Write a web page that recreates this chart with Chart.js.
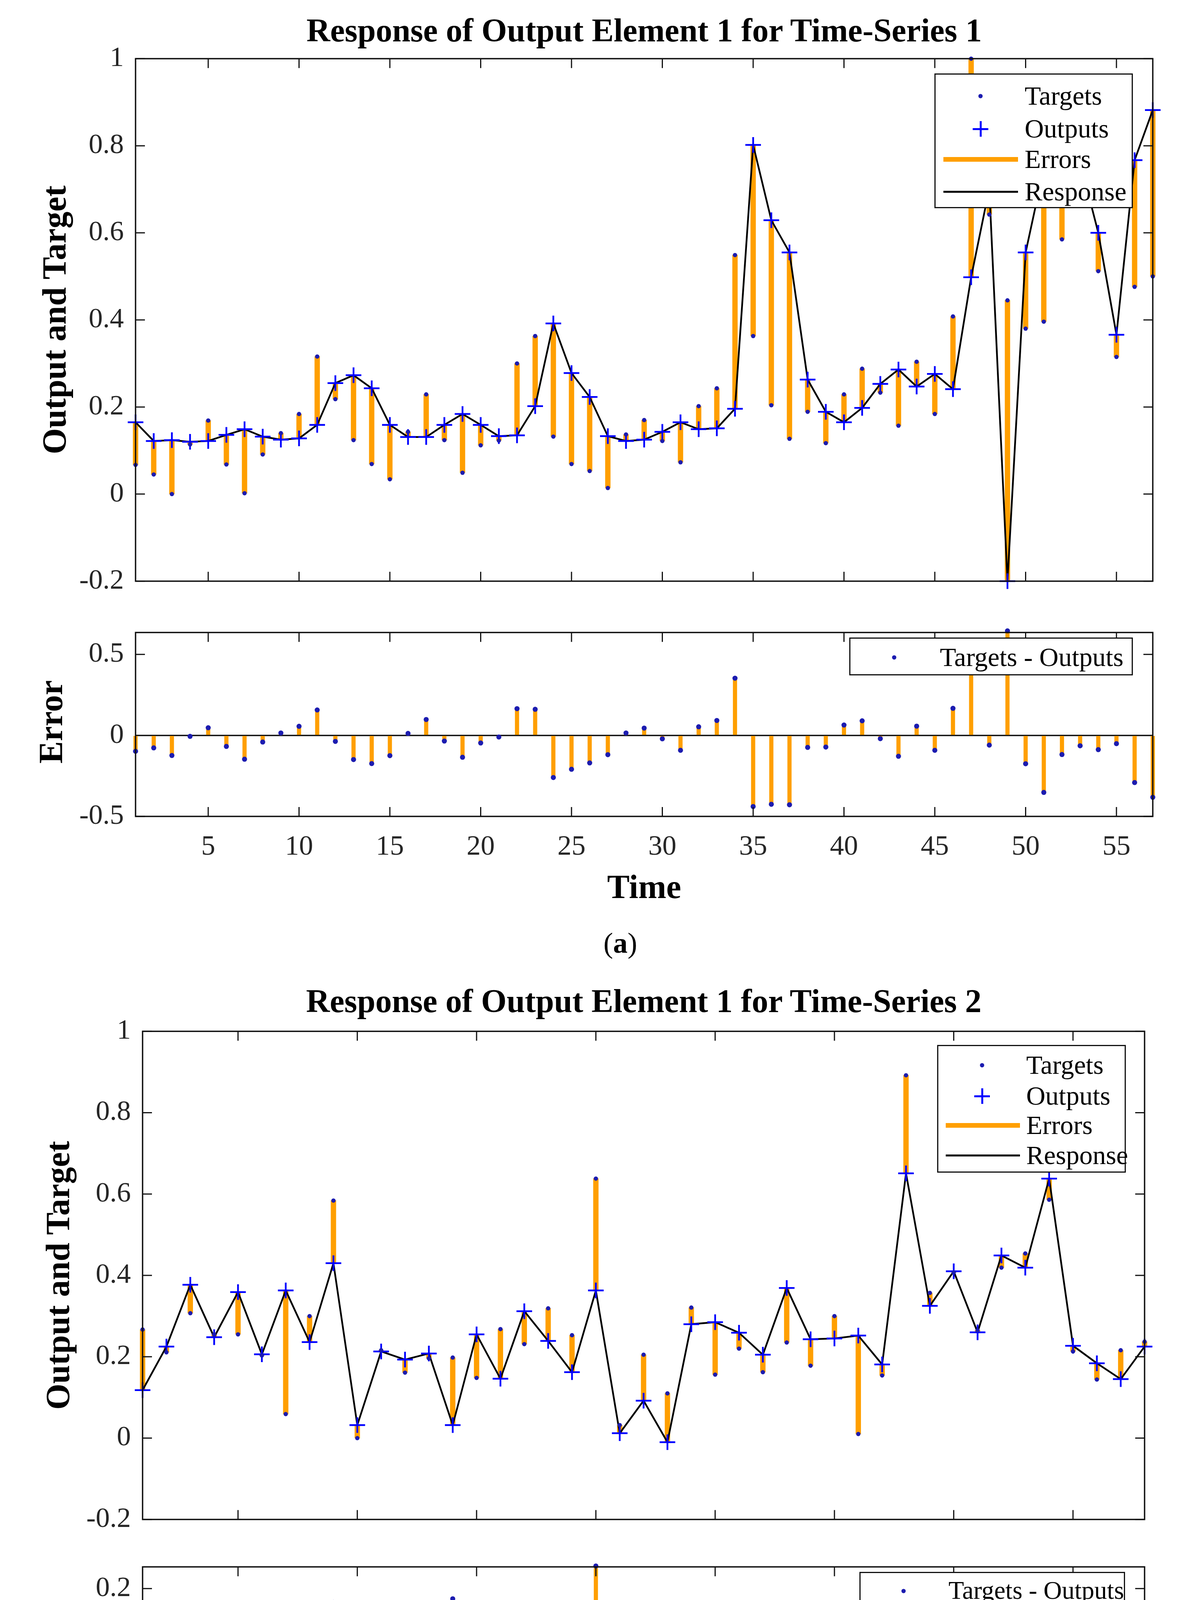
<!DOCTYPE html>
<html lang="en">

<head>
    <meta charset="UTF-8">
    <title>Response of Output Element 1</title>
    <script src="https://cdn.jsdelivr.net/npm/chart.js"></script>
    <style>
        html, body { margin: 0; padding: 0; background: #fff; }
        body { width: 3013px; height: 4827px; position: relative; overflow: hidden;
               font-family: 'Liberation Serif', 'Times New Roman', serif; color: #000; }
        canvas { position: absolute; }
        .txt { position: absolute; white-space: nowrap; line-height: 1; transform: translate(-50%, -50%); }
        .titulo { font-weight: bold; font-size: 84px; }
        .rotulo { font-weight: bold; font-size: 86px; }
        .vertical { transform: translate(-50%, -50%) rotate(-90deg); }
        .legenda_fig { font-size: 74px; }
        .legenda { position: absolute; background: #fff; border: 3px solid #111; box-sizing: border-box; }
        .linha { position: absolute; left: 0; right: 0; height: 0; }
        .linha span { position: absolute; top: 0; font-size: 68px; line-height: 1; white-space: nowrap; transform: translateY(-52%); }
        .ponto { position: absolute; top: 0; width: 11px; height: 11px; border-radius: 50%; background: #1c1cb0; transform: translate(-50%, -50%); }
        .mais { position: absolute; top: 0; width: 40px; height: 40px; transform: translate(-50%, -50%); }
        .mais::before { content: ""; position: absolute; left: 0; top: 17.5px; width: 40px; height: 5px; background: #0000ff; }
        .mais::after { content: ""; position: absolute; left: 17.5px; top: 0; width: 5px; height: 40px; background: #0000ff; }
        .traco { position: absolute; top: 0; transform: translateY(-50%); }
    </style>
</head>

<body>

    <!-- (a) Time-Series 1 -->
    <div class="txt titulo" style="left:1649px; top:78px;">Response of Output Element 1 for Time-Series 1</div>
    <div class="txt rotulo vertical" style="left:139px; top:819px;">Output and Target</div>
    <div class="txt rotulo vertical" style="left:130px; top:1848px;">Error</div>
    <div class="txt rotulo" style="left:1649px; top:2270px;">Time</div>
    <div class="txt legenda_fig" style="left:1588px; top:2414px;">(<b>a</b>)</div>

    <canvas id="resposta1"></canvas>
    <canvas id="erro1"></canvas>

    <div class="legenda" style="left:2392px; top:188px; width:508px; height:345px;">
        <div class="linha" style="top:55px;"><div class="ponto" style="left:115px;"></div><span style="left:228px;">Targets</span></div>
        <div class="linha" style="top:139px;"><div class="mais" style="left:115px;"></div><span style="left:228px;">Outputs</span></div>
        <div class="linha" style="top:217px;"><div class="traco" style="left:20px; width:191px; height:12px; background:#ff9f00;"></div><span style="left:228px;">Errors</span></div>
        <div class="linha" style="top:300px;"><div class="traco" style="left:20px; width:191px; height:5px; background:#000;"></div><span style="left:228px;">Response</span></div>
    </div>
    <div class="legenda" style="left:2174px; top:1632px; width:726px; height:97px;">
        <div class="linha" style="top:48px;"><div class="ponto" style="left:112px;"></div><span style="left:229px;">Targets - Outputs</span></div>
    </div>

    <!-- (b) Time-Series 2 -->
    <div class="txt titulo" style="left:1648px; top:2563px;">Response of Output Element 1 for Time-Series 2</div>
    <div class="txt rotulo vertical" style="left:148px; top:3265px;">Output and Target</div>
    <div class="txt rotulo vertical" style="left:148px; top:4225px;">Error</div>
    <div class="txt rotulo" style="left:1648px; top:4632px;">Time</div>
    <div class="txt legenda_fig" style="left:1588px; top:4755px;">(<b>b</b>)</div>

    <canvas id="resposta2"></canvas>
    <canvas id="erro2"></canvas>

    <div class="legenda" style="left:2399px; top:2675px; width:483px; height:327px;">
        <div class="linha" style="top:49px;"><div class="ponto" style="left:112px;"></div><span style="left:225px;">Targets</span></div>
        <div class="linha" style="top:128px;"><div class="mais" style="left:112px;"></div><span style="left:225px;">Outputs</span></div>
        <div class="linha" style="top:203px;"><div class="traco" style="left:19px; width:190px; height:12px; background:#ff9f00;"></div><span style="left:225px;">Errors</span></div>
        <div class="linha" style="top:280px;"><div class="traco" style="left:19px; width:190px; height:5px; background:#000;"></div><span style="left:225px;">Response</span></div>
    </div>
    <div class="legenda" style="left:2200px; top:4024px; width:680px; height:93px;">
        <div class="linha" style="top:46px;"><div class="ponto" style="left:110px;"></div><span style="left:225px; font-size:65px;">Targets - Outputs</span></div>
    </div>

</body>

</html>

<script>
    // Série temporal 1 (57 instantes)
    const tempo1 = [1, 2, 3, 4, 5, 6, 7, 8, 9, 10, 11, 12, 13, 14, 15, 16, 17, 18, 19, 20,
        21, 22, 23, 24, 25, 26, 27, 28, 29, 30, 31, 32, 33, 34, 35, 36, 37, 38, 39, 40,
        41, 42, 43, 44, 45, 46, 47, 48, 49, 50, 51, 52, 53, 54, 55, 56, 57];
    const targets1 = [0.067, 0.045, 0.000, 0.114, 0.169, 0.068, 0.002, 0.091, 0.140, 0.184,
        0.316, 0.218, 0.124, 0.069, 0.034, 0.143, 0.229, 0.124, 0.049, 0.112,
        0.123, 0.300, 0.363, 0.132, 0.069, 0.053, 0.014, 0.137, 0.170, 0.122,
        0.073, 0.202, 0.243, 0.549, 0.363, 0.204, 0.127, 0.189, 0.117, 0.229,
        0.288, 0.233, 0.157, 0.304, 0.184, 0.408, 1.000, 0.642, 0.445, 0.380,
        0.396, 0.585, 0.699, 0.512, 0.315, 0.476, 0.500];
    const outputs1 = [0.165, 0.122, 0.124, 0.120, 0.122, 0.136, 0.149, 0.132, 0.125, 0.128,
        0.159, 0.255, 0.273, 0.243, 0.159, 0.131, 0.131, 0.159, 0.184, 0.159,
        0.133, 0.135, 0.202, 0.392, 0.278, 0.223, 0.133, 0.122, 0.125, 0.143,
        0.165, 0.149, 0.151, 0.196, 0.802, 0.629, 0.555, 0.263, 0.189, 0.165,
        0.198, 0.253, 0.286, 0.247, 0.276, 0.241, 0.498, 0.702, -0.200, 0.555,
        0.748, 0.703, 0.763, 0.600, 0.366, 0.767, 0.882];

    // Série temporal 2 (43 instantes)
    const tempo2 = [1, 2, 3, 4, 5, 6, 7, 8, 9, 10, 11, 12, 13, 14, 15, 16, 17, 18, 19, 20,
        21, 22, 23, 24, 25, 26, 27, 28, 29, 30, 31, 32, 33, 34, 35, 36, 37, 38, 39, 40,
        41, 42, 43];
    const targets2 = [0.267, 0.211, 0.307, 0.255, 0.255, 0.203, 0.059, 0.300, 0.584, 0.000,
        0.216, 0.161, 0.196, 0.198, 0.148, 0.268, 0.231, 0.319, 0.253, 0.638,
        0.032, 0.205, 0.110, 0.321, 0.156, 0.220, 0.162, 0.235, 0.178, 0.300,
        0.010, 0.154, 0.892, 0.357, 0.407, 0.265, 0.419, 0.454, 0.586, 0.213,
        0.144, 0.216, 0.237];
    const outputs2 = [0.118, 0.225, 0.377, 0.248, 0.359, 0.206, 0.363, 0.236, 0.430, 0.032,
        0.213, 0.193, 0.208, 0.032, 0.255, 0.146, 0.312, 0.239, 0.162, 0.363,
        0.012, 0.092, -0.010, 0.280, 0.285, 0.259, 0.205, 0.369, 0.243, 0.245,
        0.252, 0.181, 0.651, 0.325, 0.410, 0.260, 0.449, 0.419, 0.638, 0.227,
        0.184, 0.145, 0.225];

    // Ticks dos eixos
    const ticksY = [-0.2, 0, 0.2, 0.4, 0.6, 0.8, 1];
    const ticksErro1 = [-0.5, 0, 0.5];
    const ticksErro2 = [-0.2, 0, 0.2];
    const ticksX1 = [5, 10, 15, 20, 25, 30, 35, 40, 45, 50, 55];
    const ticksX2 = [5, 10, 15, 20, 25, 30, 35, 40];

    const laranja = "#ff9f00";
    const azulAlvo = "#1c1cb0";
    const azulSaida = "#0000ff";
    const fonteEixo = { family: "'Liberation Serif', 'Times New Roman', serif", size: 72 };

    // Erro = Targets - Outputs
    const erros1 = targets1.map((t, i) => t - outputs1[i]);
    const erros2 = targets2.map((t, i) => t - outputs2[i]);

    // Caixa e ticks para dentro, estilo MATLAB
    const moldura = {
        id: "moldura",
        afterDraw(chart) {
            const { ctx, chartArea: a, scales: { x, y } } = chart;
            const tam = 24;
            ctx.save();
            ctx.strokeStyle = "#111";
            ctx.lineWidth = 3;
            ctx.beginPath();
            x.ticks.forEach(t => {
                const px = x.getPixelForValue(t.value);
                ctx.moveTo(px, a.bottom); ctx.lineTo(px, a.bottom - tam);
                ctx.moveTo(px, a.top); ctx.lineTo(px, a.top + tam);
            });
            y.ticks.forEach(t => {
                const py = y.getPixelForValue(t.value);
                ctx.moveTo(a.left, py); ctx.lineTo(a.left + tam, py);
                ctx.moveTo(a.right, py); ctx.lineTo(a.right - tam, py);
            });
            ctx.stroke();
            ctx.lineWidth = 3.5;
            ctx.strokeRect(a.left, a.top, a.right - a.left, a.bottom - a.top);
            ctx.restore();
        }
    };

    function criarPainel(id, area, cfg) {
        const m = { l: 330, t: 60, r: 60, b: cfg.mostrarX ? 200 : 60 };
        const canvas = document.getElementById(id);
        canvas.width = area.w + m.l + m.r;
        canvas.height = area.h + m.t + m.b;
        canvas.style.left = (area.x - m.l) + "px";
        canvas.style.top = (area.y - m.t) + "px";
        canvas.style.width = canvas.width + "px";
        canvas.style.height = canvas.height + "px";

        return new Chart(canvas, {
            type: "scatter",
            data: { datasets: cfg.datasets },
            options: {
                responsive: false,
                devicePixelRatio: 1,
                animation: false,
                events: [],
                layout: { padding: { left: 0, top: m.t, right: m.r, bottom: 0 } },
                plugins: { legend: { display: false }, tooltip: { enabled: false } },
                scales: {
                    x: {
                        type: "linear", min: cfg.xMin, max: cfg.xMax, offset: false,
                        grid: { display: false, drawTicks: false, offset: false },
                        border: { display: false },
                        ticks: { display: cfg.mostrarX, font: fonteEixo, color: "#262626", padding: cfg.padX || 30,
                                 maxRotation: 0, autoSkip: false, callback: v => String(v) },
                        afterBuildTicks: s => { s.ticks = cfg.ticksX.map(v => ({ value: v })); },
                        afterFit: s => { s.height = m.b; }
                    },
                    y: {
                        type: "linear", min: cfg.yMin, max: cfg.yMax,
                        grid: {
                            display: !!cfg.linhaZero, drawTicks: false, lineWidth: 3.5,
                            color: c => (c.tick && c.tick.value === 0) ? "#111" : "rgba(0,0,0,0)"
                        },
                        border: { display: false },
                        ticks: { font: fonteEixo, color: "#262626", padding: 30, autoSkip: false, callback: v => String(v) },
                        afterBuildTicks: s => { s.ticks = cfg.ticksY.map(v => ({ value: v })); },
                        afterFit: s => { s.width = m.l; }
                    }
                }
            },
            plugins: [moldura]
        });
    }

    function datasetsResposta(tempo, alvos, saidas) {
        return [
            { type: "bar", order: 3, clip: false, data: tempo.map((t, i) => ({ x: t, y: [alvos[i], saidas[i]] })),
              backgroundColor: laranja, borderWidth: 0, barThickness: 13 },
            { type: "line", order: 2, clip: false, data: tempo.map((t, i) => ({ x: t, y: saidas[i] })),
              borderColor: "#000", borderWidth: 4.5, pointRadius: 0, tension: 0, fill: false },
            { type: "scatter", order: 1, clip: false, data: tempo.map((t, i) => ({ x: t, y: saidas[i] })),
              pointStyle: "cross", pointRadius: 20, borderColor: azulSaida, pointBorderWidth: 4.5 },
            { type: "scatter", order: 0, clip: false, data: tempo.map((t, i) => ({ x: t, y: alvos[i] })),
              pointStyle: "circle", pointRadius: 5.5, backgroundColor: azulAlvo, borderWidth: 0 }
        ];
    }

    function datasetsErro(tempo, erros) {
        return [
            { type: "bar", order: 1, clip: false, data: tempo.map((t, i) => ({ x: t, y: [0, erros[i]] })),
              backgroundColor: laranja, borderWidth: 0, barThickness: 10 },
            { type: "scatter", order: 0, clip: false, data: tempo.map((t, i) => ({ x: t, y: erros[i] })),
              pointStyle: "circle", pointRadius: 6.5, backgroundColor: azulAlvo, borderWidth: 0 }
        ];
    }

    criarPainel("resposta1", { x: 347, y: 137, w: 2604, h: 1364 }, {
        xMin: 1, xMax: 57, yMin: -0.2, yMax: 1, ticksX: ticksX1, ticksY: ticksY,
        mostrarX: false, datasets: datasetsResposta(tempo1, targets1, outputs1)
    });
    criarPainel("erro1", { x: 347, y: 1606, w: 2604, h: 484 }, {
        xMin: 1, xMax: 57, yMin: -0.5, yMax: 0.635, ticksX: ticksX1, ticksY: ticksErro1,
        mostrarX: true, padX: 36, linhaZero: true, datasets: datasetsErro(tempo1, erros1)
    });
    criarPainel("resposta2", { x: 365, y: 2627, w: 2565, h: 1276 }, {
        xMin: 1, xMax: 43, yMin: -0.2, yMax: 1, ticksX: ticksX2, ticksY: ticksY,
        mostrarX: false, datasets: datasetsResposta(tempo2, targets2, outputs2)
    });
    criarPainel("erro2", { x: 365, y: 3998, w: 2565, h: 454 }, {
        xMin: 1, xMax: 43, yMin: -0.3, yMax: 0.272, ticksX: ticksX2, ticksY: ticksErro2,
        mostrarX: true, padX: 28, linhaZero: true, datasets: datasetsErro(tempo2, erros2)
    });
</script>
